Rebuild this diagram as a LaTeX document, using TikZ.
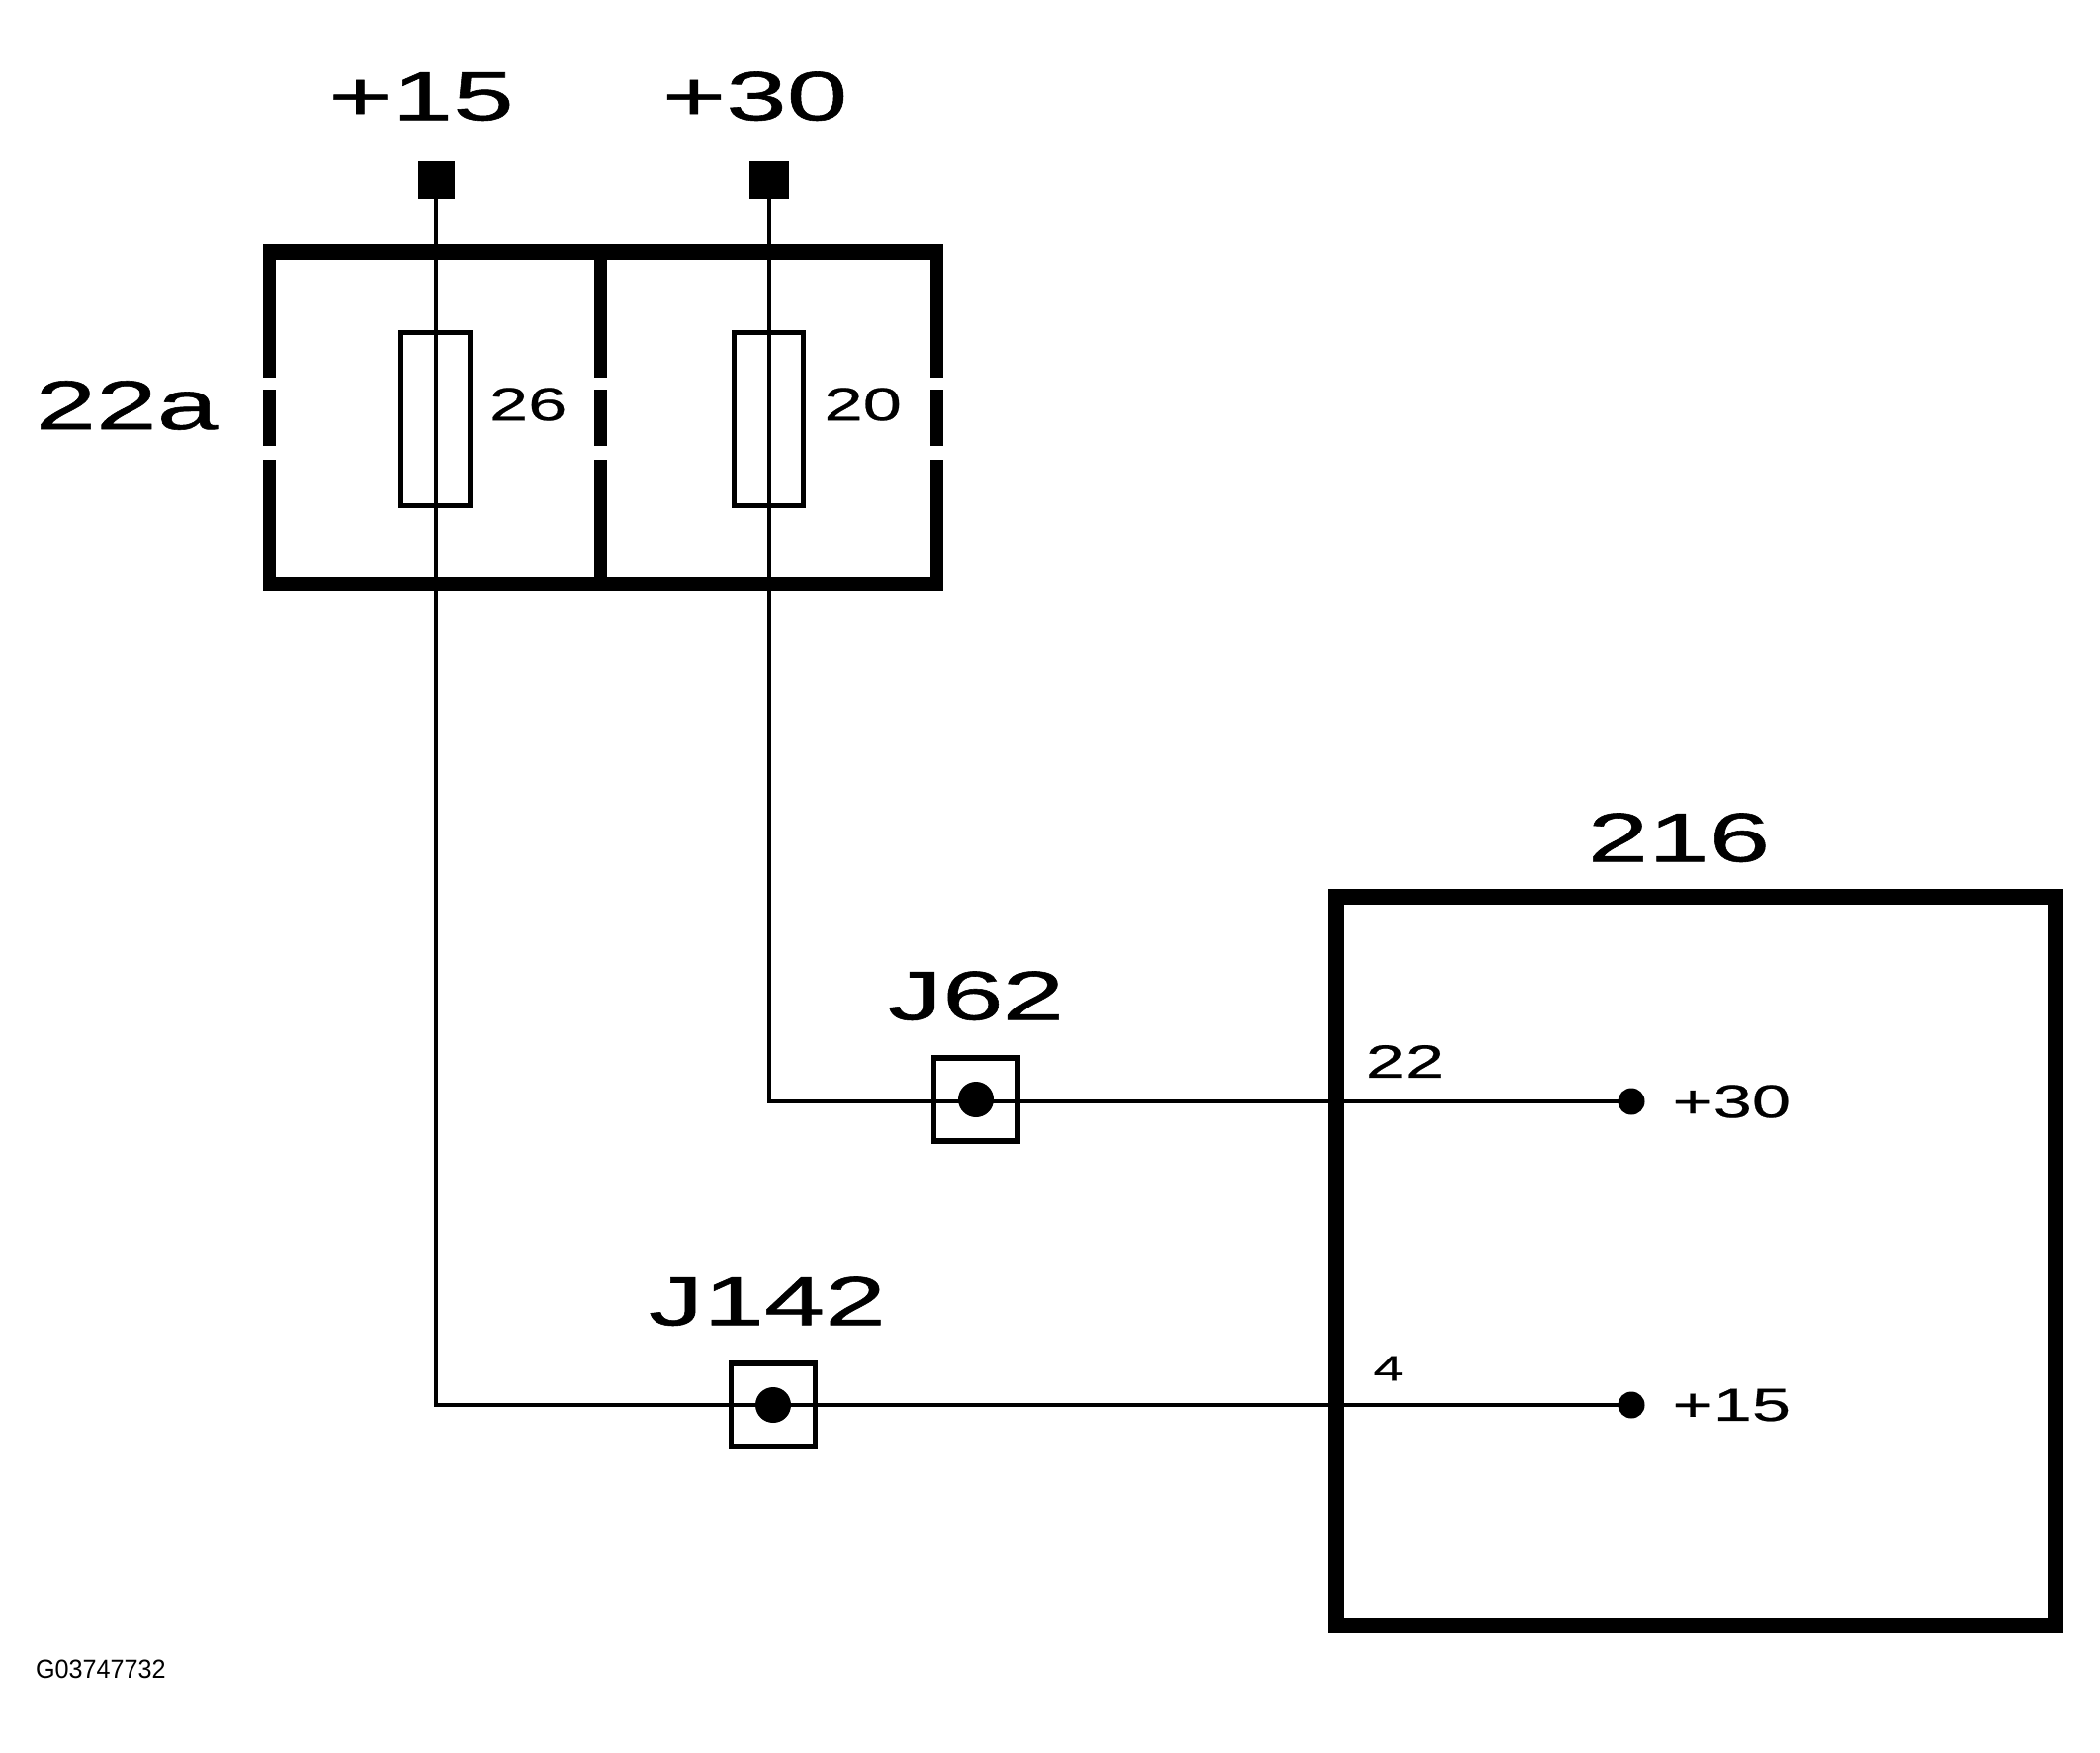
\documentclass[tikz,border=0pt]{standalone}
\usepackage{fontspec}
\setmainfont{Liberation Sans}
\newfontfamily\bigwide[FakeStretch=1.58,FakeBold=0.8]{Liberation Sans}
\newfontfamily\midwide[FakeStretch=1.5,FakeBold=0.5]{Liberation Sans}
\newfontfamily\codenarrow[FakeStretch=0.95]{Liberation Sans}
\usetikzlibrary{positioning}

\begin{document}
\begin{tikzpicture}[
    x=0.5pt, y=-0.5pt,
    every node/.style={inner sep=0pt, outer sep=0pt},
    biglabel/.style={font=\bigwide\fontsize{35}{35}\selectfont},
    midlabel/.style={font=\midwide\fontsize{23.5}{23.5}\selectfont},
    terminal/.style={fill=black, minimum width=18.5pt, minimum height=19pt},
    fuse/.style={draw, line width=2.5pt, minimum width=35pt, minimum height=87.5pt},
    junction/.style={draw, line width=2.7pt, minimum width=42.5pt, minimum height=42pt},
    junctiondot/.style={circle, fill=black, minimum size=18pt},
    pin/.style={circle, fill=black, minimum size=13.5pt},
    wall/.style={line width=6.5pt},
    wire/.style={line width=2pt}
]
\useasboundingbox (0,0) rectangle (2124,1772);

% Fuse box
\draw[line width=8pt] (266,255) -- (953.5,255);
\draw[line width=6.75pt] (266,591) -- (953.5,591);
\foreach \x in {272.5,607.5,947} {
    \draw[wall] (\x,255) -- (\x,382);
    \draw[wall] (\x,394) -- (\x,451);
    \draw[wall] (\x,465) -- (\x,591);
}
\node[biglabel] (boxlabel) at (128,410) {22a};

% Fuses
\node[fuse] (F26) at (440,424) {};
\node[fuse] (F20) at (777.5,424) {};
\node[midlabel, right=10pt of F26, yshift=7.5pt] (F26label) {26};
\node[midlabel, right=10.5pt of F20, yshift=7.5pt] (F20label) {20};

% Terminals
\node[terminal] (T15) at (441,182) {};
\node[terminal, minimum width=20pt] (T30) at (777.5,182) {};
\node[biglabel, above=20.5pt of T15, xshift=-7.5pt] (T15label) {+15};
\node[biglabel, above=20.5pt of T30, xshift=-7pt] (T30label) {+30};

% Control unit
\node[draw, line width=8pt, minimum width=364pt, minimum height=368.5pt] (unit) at (1714.5,1275.5) {};
\node[biglabel, above=17.5pt of unit, xshift=-8.25pt] (unitlabel) {216};

% Junctions
\node[junction] (J62) at (987,1112) {};
\node[junction] (J142) at (782,1421) {};
\node[junctiondot] (J62dot) at (J62) {};
\node[junctiondot] (J142dot) at (J142) {};
\node[biglabel, above=19pt of J62] (J62label) {J62};
\node[biglabel, above=19pt of J142, xshift=-3pt] (J142label) {J142};

% Pins
\node[pin] (P30) at (1650,1114) {};
\node[pin] (P15) at (1650,1421) {};
\node[midlabel, right=14pt of P30] (P30label) {+30};
\node[midlabel, right=14pt of P15] (P15label) {+15};
\node[midlabel] (pin22) at (1421,1073.5) {22};
\node[font=\midwide\fontsize{18}{18}\selectfont] (pin4) at (1404.5,1384) {4};

% Wires
\draw[wire] (T30) |- (P30);
\draw[wire] (T15) |- (P15);

\node[font=\codenarrow\fontsize{13.25}{13.25}\selectfont, anchor=west] (code) at (36,1688) {G03747732};

\end{tikzpicture}
\end{document}
